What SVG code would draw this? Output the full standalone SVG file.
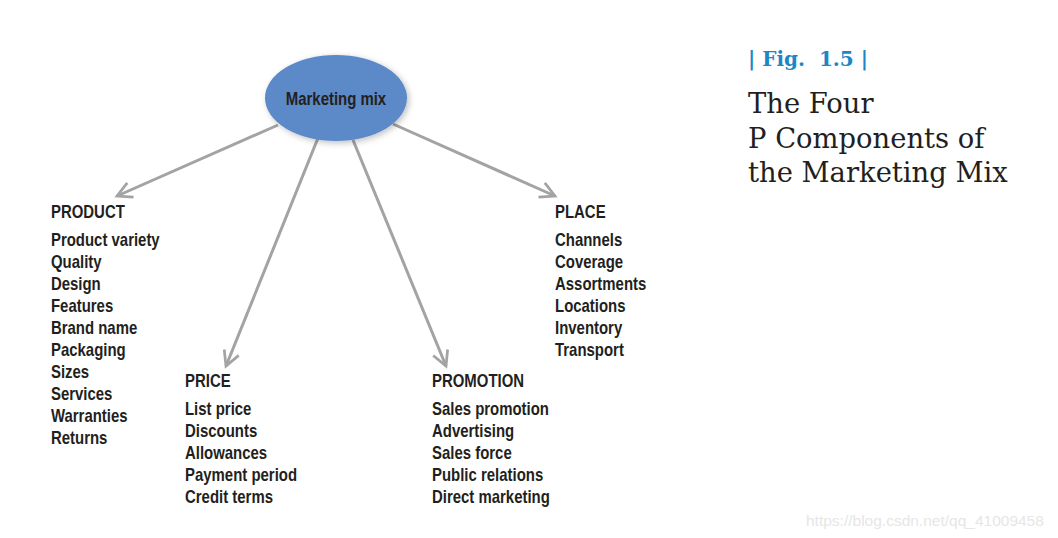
<svg xmlns="http://www.w3.org/2000/svg" width="1058" height="538" viewBox="0 0 1058 538">
<style>
.t{font-family:"Liberation Sans",Arial,sans-serif;font-weight:bold;font-size:18px;fill:#231f20}
.n{transform:scale(0.83,1)}
.c{stroke:#a3a3a3;stroke-width:3;fill:none}
.ti{font-family:"DejaVu Serif",serif;font-size:27.4px;fill:#231f20}
</style>
<defs>
<marker id="ah" viewBox="0 0 20 20" refX="17" refY="10" markerWidth="6.5" markerHeight="6.5" markerUnits="strokeWidth" orient="auto">
<path d="M2,2 L17,10 L2,18" fill="none" stroke="#a3a3a3" stroke-width="2.8" stroke-linejoin="miter"/>
</marker>
<filter id="sh" x="-20%" y="-20%" width="150%" height="150%">
<feDropShadow dx="2" dy="2" stdDeviation="3" flood-color="#000" flood-opacity="0.25"/>
</filter>
</defs>
<rect width="1058" height="538" fill="#fff"/>
<g id="connectors">
<line class="c" x1="278" y1="125" x2="117" y2="196" marker-end="url(#ah)"/>
<line class="c" x1="318" y1="138" x2="226" y2="366" marker-end="url(#ah)"/>
<line class="c" x1="353" y1="140" x2="446" y2="366" marker-end="url(#ah)"/>
<line class="c" x1="393" y1="124" x2="555" y2="196" marker-end="url(#ah)"/>
</g>
<g id="marketing-mix">
<ellipse cx="336" cy="98" rx="71" ry="43" fill="#5b89c7" filter="url(#sh)"/>
<g class="n"><text class="t" x="404.8" y="105" text-anchor="middle" font-size="21">Marketing mix</text></g>
</g>
<g id="product">
<g class="n">
<text class="t" x="61.4" y="218">PRODUCT</text>
<text class="t" x="61.4" y="246">Product variety</text>
<text class="t" x="61.4" y="268">Quality</text>
<text class="t" x="61.4" y="290">Design</text>
<text class="t" x="61.4" y="312">Features</text>
<text class="t" x="61.4" y="334">Brand name</text>
<text class="t" x="61.4" y="356">Packaging</text>
<text class="t" x="61.4" y="378">Sizes</text>
<text class="t" x="61.4" y="400">Services</text>
<text class="t" x="61.4" y="422">Warranties</text>
<text class="t" x="61.4" y="444">Returns</text>
</g>
</g>
<g id="price">
<g class="n">
<text class="t" x="222.9" y="387">PRICE</text>
<text class="t" x="222.9" y="415">List price</text>
<text class="t" x="222.9" y="437">Discounts</text>
<text class="t" x="222.9" y="459">Allowances</text>
<text class="t" x="222.9" y="481">Payment period</text>
<text class="t" x="222.9" y="503">Credit terms</text>
</g>
</g>
<g id="promotion">
<g class="n">
<text class="t" x="520.5" y="387">PROMOTION</text>
<text class="t" x="520.5" y="415">Sales promotion</text>
<text class="t" x="520.5" y="437">Advertising</text>
<text class="t" x="520.5" y="459">Sales force</text>
<text class="t" x="520.5" y="481">Public relations</text>
<text class="t" x="520.5" y="503">Direct marketing</text>
</g>
</g>
<g id="place">
<g class="n">
<text class="t" x="668.7" y="218">PLACE</text>
<text class="t" x="668.7" y="246">Channels</text>
<text class="t" x="668.7" y="268">Coverage</text>
<text class="t" x="668.7" y="290">Assortments</text>
<text class="t" x="668.7" y="312">Locations</text>
<text class="t" x="668.7" y="334">Inventory</text>
<text class="t" x="668.7" y="356">Transport</text>
</g>
</g>
<g id="caption">
<text x="748" y="66" font-family="'DejaVu Serif',serif" font-weight="bold" font-size="20" fill="#1b87c5" xml:space="preserve">| Fig.  1.5 |</text>
<text class="ti" x="748" y="113">The Four</text>
<text class="ti" x="748" y="148">P Components of</text>
<text class="ti" x="748" y="182">the Marketing Mix</text>
</g>
<text x="806" y="526" font-family="'Liberation Sans',Arial,sans-serif" font-size="15.5" fill="#e6e6e6">https://blog.csdn.net/qq_41009458</text>
</svg>
